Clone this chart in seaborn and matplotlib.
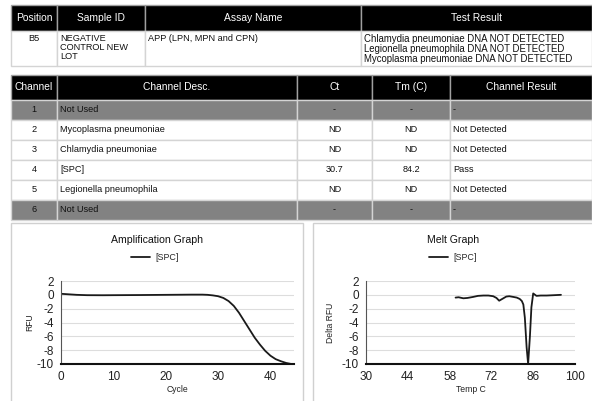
import matplotlib
matplotlib.use("Agg")
import matplotlib.pyplot as plt
from matplotlib.patches import Rectangle
import pandas as pd
import seaborn as sns

# sample table
sample_header = ["Position", "Sample ID", "Assay Name", "Test Result"]
sample_position = ["B5"]
sample_id = ["NEGATIVE\nCONTROL NEW\nLOT"]
sample_assay = ["APP (LPN, MPN and CPN)"]
sample_result = ["Chlamydia pneumoniae DNA NOT DETECTED\n"
                 "Legionella pneumophila DNA NOT DETECTED\n"
                 "Mycoplasma pneumoniae DNA NOT DETECTED"]

# channel table
channel_header = ["Channel", "Channel Desc.", "Ct", "Tm (C)", "Channel Result"]
channel_no = ["1", "2", "3", "4", "5", "6"]
channel_desc = ["Not Used", "Mycoplasma pneumoniae", "Chlamydia pneumoniae",
                "[SPC]", "Legionella pneumophila", "Not Used"]
channel_ct = ["-", "ND", "ND", "30.7", "ND", "-"]
channel_tm = ["-", "ND", "ND", "84.2", "ND", "-"]
channel_result = ["-", "Not Detected", "Not Detected", "Pass", "Not Detected", "-"]

# amplification curve ([SPC])
amp_cycle = [0, 1, 2, 3, 5, 8, 10, 15, 20, 25, 27, 28, 29, 30, 31, 32, 33, 34,
             35, 36, 37, 38, 39, 40, 41, 42, 43, 44, 44.5]
amp_rfu = [0.15, 0.1, 0.05, 0.0, -0.05, -0.06, -0.05, -0.03, 0.0, 0.03, 0.03,
           0.0, -0.08, -0.2, -0.45, -0.9, -1.6, -2.6, -3.8, -5.0, -6.2, -7.2,
           -8.1, -8.8, -9.3, -9.6, -9.85, -10.0, -10.05]

# melt curve ([SPC])
melt_temp = [60, 61, 62.6, 64, 65.9, 67.5, 69.3, 71, 72.6, 73.7, 74.6, 76,
             77, 78, 79.3, 80.5, 81.5, 82.2, 82.7, 83.2, 83.8, 84.3, 84.9,
             85.4, 86, 87.1, 88.5, 90.5, 93, 95.3]
melt_drfu = [-0.4, -0.35, -0.5, -0.45, -0.3, -0.15, -0.1, -0.1, -0.2, -0.45,
             -0.85, -0.5, -0.25, -0.2, -0.3, -0.4, -0.6, -0.9, -1.4, -3.3,
             -7.6, -10.0, -6.0, -1.8, 0.2, -0.15, -0.1, -0.1, -0.05, 0.0]

W, H = 592, 401

sns.set_style("white")
plt.rcParams['font.family'] = ['Liberation Sans', 'DejaVu Sans']
plt.rcParams['axes.unicode_minus'] = False


def fig_box(x0, y0, x1, y1):
    return [x0 / W, 1 - y1 / H, (x1 - x0) / W, (y1 - y0) / H]


def pin_text(cell, ha, va, pad=3):
    # put cell text at a fixed pixel padding instead of the table's PAD fraction
    txt = cell.get_text()
    txt.set_ha(ha)
    txt.set_va(va)
    txt.set_linespacing(1.0)

    def _place(renderer):
        bb = cell.get_window_extent(renderer)
        x = bb.x0 + pad if ha == 'left' else (bb.x0 + bb.x1) / 2
        y = bb.y1 - pad if va == 'top' else (bb.y0 + bb.y1) / 2
        txt.set_position((x, y))
    cell._set_text_position = _place


def make_table(fig, box, header, rows, col_px, head_px, row_px, aligns,
               valign='center', shaded=None, big_cols=()):
    ax = fig.add_axes(box)
    ax.set_axis_off()
    total = sum(col_px)
    tbl = ax.table(cellText=rows, colLabels=header,
                   colWidths=[w / total for w in col_px], bbox=[0, 0, 1, 1])
    tbl.auto_set_font_size(False)
    tbl.set_fontsize(6.6)
    for (r, c), cell in tbl.get_celld().items():
        cell.set_height(head_px if r == 0 else row_px)
        cell.set_linewidth(1.0)
        txt = cell.get_text()
        if r == 0:
            cell.set_facecolor('black')
            cell.set_edgecolor('#a0a0a0')
            txt.set_color('white')
            txt.set_fontsize(7.4)
            pin_text(cell, 'center', 'center')
        else:
            grey = shaded is not None and shaded[r - 1]
            cell.set_facecolor('#828282' if grey else 'white')
            cell.set_edgecolor('#d4d4d4')
            txt.set_color('#111111')
            if c in big_cols:
                txt.set_fontsize(6.9)
            pin_text(cell, aligns[c], valign)
    return tbl


fig = plt.figure(figsize=(W / 100, H / 100), dpi=100)

# top table
make_table(fig, fig_box(11, 5, 592, 66), sample_header,
           [[sample_position[0], sample_id[0], sample_assay[0], sample_result[0]]],
           [46, 88, 217, 231], 26, 35,
           ['center', 'left', 'left', 'left'], valign='top', big_cols=(3,))

# channel table
channel_rows = [list(r) for r in zip(channel_no, channel_desc, channel_ct,
                                     channel_tm, channel_result)]
make_table(fig, fig_box(11, 75, 592, 220), channel_header, channel_rows,
           [46, 240, 75, 78, 142], 25, 20,
           ['center', 'left', 'center', 'center', 'left'],
           shaded=[d == "Not Used" for d in channel_desc])

# panel frames
for x0, x1 in [(11, 303), (313, 600)]:
    fig.patches.append(Rectangle((x0 / W, -0.02), (x1 - x0) / W, 1 - 223 / H + 0.02,
                                 transform=fig.transFigure, fill=False,
                                 ec='#d0d0d0', lw=1.0))


def style_axes(ax, xlabel, ylabel, ylab_x):
    ax.set_ylim(-10, 2)
    ax.set_yticks(range(-10, 3, 2))
    ax.grid(axis='y', color='#dddddd', lw=0.8)
    ax.grid(axis='x', visible=False)
    ax.set_axisbelow(True)
    for s in ['top', 'right']:
        ax.spines[s].set_visible(False)
    ax.spines['left'].set_color('#555555')
    ax.spines['left'].set_linewidth(0.8)
    ax.spines['bottom'].set_color('#111111')
    ax.spines['bottom'].set_linewidth(1.5)
    ax.tick_params(axis='both', length=3, width=0.8, color='#555555',
                   labelsize=8.5, pad=2, labelcolor='#222222')
    ax.set_xlabel(xlabel, fontsize=6.2, color='#222222')
    ax.set_ylabel(ylabel, fontsize=6.2, color='#222222')
    ax.yaxis.set_label_coords(ylab_x, 0.5)
    ax.xaxis.set_label_coords(0.5, -0.25)
    leg = ax.get_legend()
    if leg is not None:
        leg.remove()


# amplification graph
ax1 = fig.add_axes(fig_box(61, 281, 294, 364))
amp_df = pd.DataFrame({'Cycle': amp_cycle, 'RFU': amp_rfu})
sns.lineplot(data=amp_df, x='Cycle', y='RFU', ax=ax1, color='#1a1a1a',
             linewidth=1.3, label='[SPC]')
ax1.set_xlim(0, 44.5)
ax1.set_xticks([0, 10, 20, 30, 40])
style_axes(ax1, 'Cycle', 'RFU', -0.115)
h1, l1 = ax1.get_legend_handles_labels()
fig.text(157 / W, 1 - 240 / H, 'Amplification Graph', ha='center', va='center',
         fontsize=7.6, color='#111111')
fig.legend(h1, l1, loc='center', bbox_to_anchor=(155 / W, 1 - 258 / H),
           frameon=False, fontsize=6.4, handlelength=2.2, handletextpad=0.6)

# melt graph
ax2 = fig.add_axes(fig_box(366, 281, 575, 364))
melt_df = pd.DataFrame({'Temp C': melt_temp, 'Delta RFU': melt_drfu})
sns.lineplot(data=melt_df, x='Temp C', y='Delta RFU', ax=ax2, color='#1a1a1a',
             linewidth=1.3, label='[SPC]')
ax2.set_xlim(30, 100)
ax2.set_xticks([30, 44, 58, 72, 86, 100])
style_axes(ax2, 'Temp C', 'Delta RFU', -0.15)
h2, l2 = ax2.get_legend_handles_labels()
fig.text(453 / W, 1 - 240 / H, 'Melt Graph', ha='center', va='center',
         fontsize=7.6, color='#111111')
fig.legend(h2, l2, loc='center', bbox_to_anchor=(453 / W, 1 - 258 / H),
           frameon=False, fontsize=6.4, handlelength=2.2, handletextpad=0.6)

fig.savefig('out.png', dpi=100)
